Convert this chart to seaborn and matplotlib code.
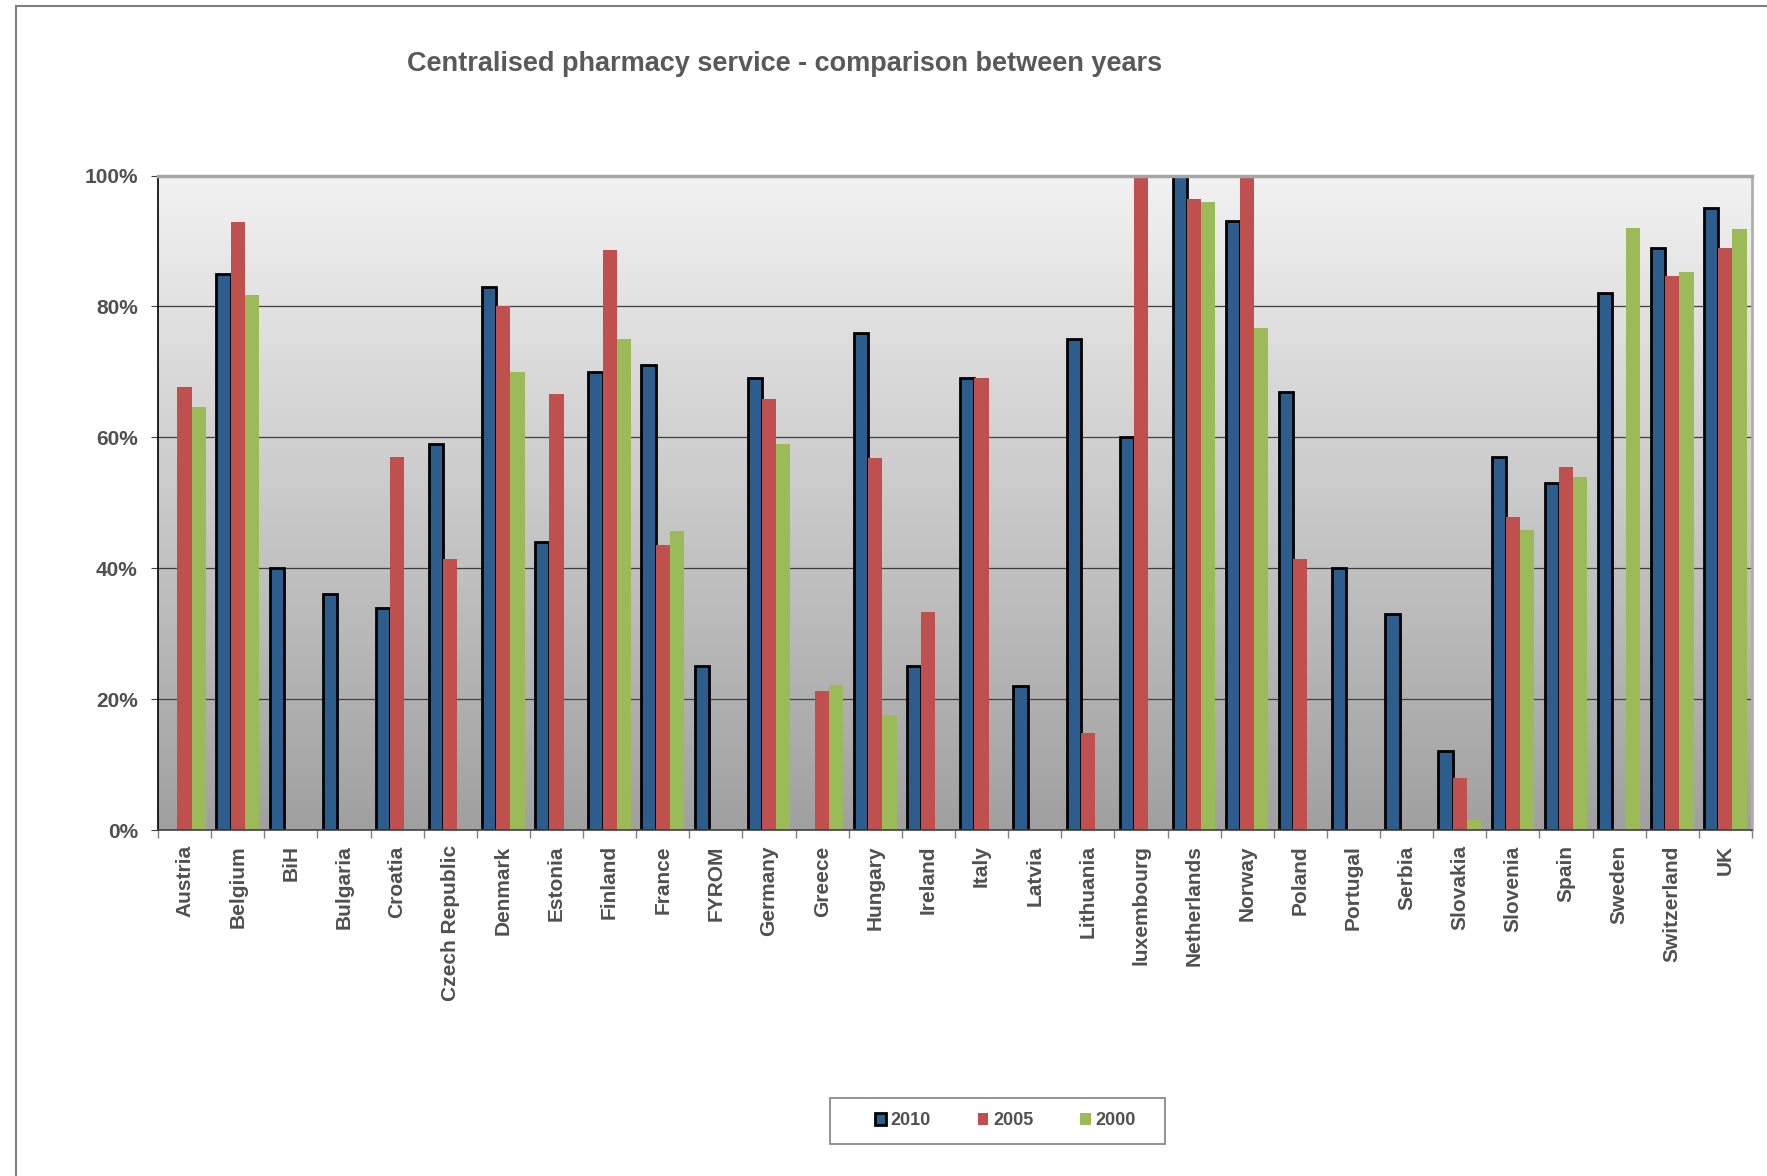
import numpy as np
import pandas as pd
import matplotlib
matplotlib.use('Agg')
import matplotlib.pyplot as plt
import seaborn as sns
from matplotlib.patches import Rectangle, Patch
from matplotlib.colors import to_rgba

# data (percent), NaN = no bar
countries = ['Austria', 'Belgium', 'BiH', 'Bulgaria', 'Croatia', 'Czech Republic',
             'Denmark', 'Estonia', 'Finland', 'France', 'FYROM', 'Germany', 'Greece',
             'Hungary', 'Ireland', 'Italy', 'Latvia', 'Lithuania', 'luxembourg',
             'Netherlands', 'Norway', 'Poland', 'Portugal', 'Serbia', 'Slovakia',
             'Slovenia', 'Spain', 'Sweden', 'Switzerland', 'UK']
nan = np.nan
y2010 = [nan, 85, 40, 36, 34, 59, 83, 44, 70, 71, 25, 69, nan, 76, 25,
         69, 22, 75, 60, 100, 93, 67, 40, 33, 12, 57, 53, 82, 89, 95]
y2005 = [67.7, 92.9, nan, nan, 57.0, 41.4, 80.0, 66.7, 88.6, 43.5, nan, 65.9, 21.3, 56.9, 33.3,
         69.0, nan, 14.9, 100, 96.4, 100, 41.4, nan, nan, 8.0, 47.9, 55.5, nan, 84.6, 88.9]
y2000 = [64.7, 81.8, nan, nan, nan, nan, 70.0, nan, 75.0, 45.7, nan, 59.0, 22.1, 17.6, nan,
         nan, nan, nan, nan, 95.9, 76.7, nan, nan, nan, 1.5, 45.8, 54.0, 92.0, 85.3, 91.9]
years = ['2010', '2005', '2000']
colors = {'2010': '#2d5d8c', '2005': '#c0504d', '2000': '#9bbb59'}

df = pd.DataFrame({'country': countries, '2010': y2010, '2005': y2005, '2000': y2000})
long_df = df.melt(id_vars='country', var_name='year', value_name='pct').dropna()

sns.set_style('white')
plt.rcParams['font.family'] = ['Liberation Sans', 'DejaVu Sans']
plt.rcParams['font.weight'] = 'bold'   # every text in this chart is bold
txt_color = '#505050'

fig = plt.figure(figsize=(17.67, 11.76), dpi=100)
ax = fig.add_axes([0.0894, 0.2942, 0.9021, 0.5565])

sns.barplot(data=long_df, x='country', y='pct', hue='year', order=countries,
            hue_order=years, palette=colors, width=0.8, saturation=1,
            ax=ax, legend=False)

blue = to_rgba(colors['2010'])
for p in ax.patches:
    if np.allclose(p.get_facecolor(), blue):
        p.set_edgecolor('black')
        p.set_linewidth(2)
    else:
        p.set_linewidth(0)

# gradient background of plot area (light at top, darker at bottom)
grad = np.linspace(0, 1, 256).reshape(-1, 1)
cmap = matplotlib.colors.LinearSegmentedColormap.from_list('bg', ['#f2f2f2', '#a0a0a0'])
ax.imshow(grad, cmap=cmap, extent=[0, 1, 0, 1], origin='upper', transform=ax.transAxes,
          aspect='auto', zorder=0.1)

ax.set_xlim(-0.5, len(countries) - 0.5)
ax.set_ylim(0, 100)
ax.set_axisbelow(True)
ax.yaxis.grid(True, color='#404040', lw=0.9)
ax.xaxis.grid(False)

ax.set_yticks([0, 20, 40, 60, 80, 100])
ax.set_yticklabels([f'{v}%' for v in [0, 20, 40, 60, 80, 100]])
ax.set_xticks(range(len(countries)))
ax.set_xticklabels(countries, rotation=90)
ax.set_xticks(np.arange(-0.5, len(countries), 1), minor=True)
ax.tick_params(axis='x', which='major', length=0, pad=11, labelsize=15, labelcolor=txt_color)
ax.tick_params(axis='x', which='minor', length=6, color='#808080', width=1, bottom=True)
ax.tick_params(axis='y', length=5, color='#404040', pad=9.5, labelsize=15,
               labelcolor=txt_color, left=True)
ax.set_xlabel('')
ax.set_ylabel('')

ax.spines['top'].set_color('#a6a6a6')
ax.spines['top'].set_linewidth(2.5)
ax.spines['right'].set_color('#b0b0b0')
ax.spines['right'].set_linewidth(2)
ax.spines['left'].set_color('black')
ax.spines['left'].set_linewidth(1.2)
ax.spines['bottom'].set_color('#404040')
ax.spines['bottom'].set_linewidth(1.2)

fig.text(0.444, 0.946, 'Centralised pharmacy service - comparison between years',
         ha='center', va='center', fontsize=19.5, fontweight='bold', color='#595959')

# legend
handles = [Patch(facecolor=colors['2010'], edgecolor='black', linewidth=2),
           Patch(facecolor=colors['2005'], linewidth=0),
           Patch(facecolor=colors['2000'], linewidth=0)]
fig.legend(handles, years, loc='center', bbox_to_anchor=(0.569, 0.0468), ncol=3,
           frameon=False, handlelength=0.6, handleheight=0.6, handletextpad=0.25,
           columnspacing=2.6, prop={'weight': 'bold', 'size': 13}, labelcolor=txt_color)
fig.add_artist(Rectangle((830 / 1767, 1 - 1144 / 1176), 335 / 1767, 46 / 1176,
                         transform=fig.transFigure, fill=False, edgecolor='#808080', lw=1.2))

# outer chart border (top and left)
fig.add_artist(Rectangle((16 / 1767, -0.1), 1.2, 1.1 - 6 / 1176,
                         transform=fig.transFigure, fill=False, edgecolor='#7f7f7f', lw=1.5))

fig.savefig('out.png', dpi=100)
